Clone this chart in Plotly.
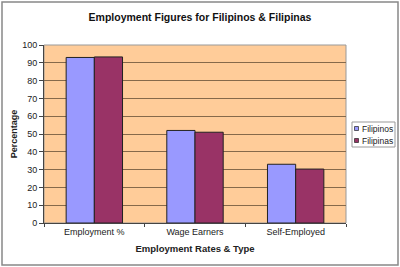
import plotly.graph_objects as go

categories = ["Employment %", "Wage Earners", "Self-Employed"]
filipinos = [93, 52, 33]
filipinas = [93.3, 51, 30.3]
y_ticks = list(range(0, 101, 10))
series_names = ["Filipinos", "Filipinas"]
series_colors = ["#9999FF", "#993366"]

L, R, T, B = 44, 54, 45, 44
W, H = 400, 267
pw, ph = W - L - R, H - T - B

def px(x):
    return (x - L) / pw

def py(y):
    return 1 - (y - T) / ph

fig = go.Figure()
for name, vals, col in zip(series_names, [filipinos, filipinas], series_colors):
    fig.add_trace(go.Bar(name=name, x=categories, y=vals,
                         marker=dict(color=col, line=dict(color="#222222", width=1))))

fig.update_layout(
    width=W, height=H,
    margin=dict(l=L, r=R, t=T, b=B, autoexpand=False),
    paper_bgcolor="white", plot_bgcolor="#FFCC99",
    barmode="group", bargap=0.44, bargroupgap=0.0,
    font=dict(family="Liberation Sans, Arial", size=9, color="#222222"),
    title=dict(text="<b>Employment Figures for Filipinos & Filipinas</b>",
               x=0.5, xanchor="center", y=1 - 17 / H, yanchor="middle",
               font=dict(size=10.5, color="#111111")),
    showlegend=False,
)
fig.update_yaxes(range=[0, 100], tickvals=y_ticks, showgrid=True, gridcolor="#86694a",
                 gridwidth=1, showline=True, linecolor="#444444", linewidth=1,
                 ticks="outside", ticklen=4, tickcolor="#444444",
                 title=dict(text="<b>Percentage</b>", font=dict(size=9), standoff=3),
                 zeroline=False)
fig.update_xaxes(showline=True, linecolor="#444444", linewidth=1,
                 ticks="outside", tickson="boundaries", ticklen=3, tickcolor="#444444",
                 title=dict(text="<b>Employment Rates & Type</b>", font=dict(size=9.5), standoff=9),
                 tickfont=dict(size=9))
# plot area border
fig.add_shape(type="rect", xref="paper", yref="paper", x0=0, x1=1, y0=0, y1=1,
              line=dict(color="#999999", width=1), layer="below")
# outer chart border
fig.add_shape(type="rect", xref="paper", yref="paper",
              x0=px(2), x1=px(398), y0=py(265), y1=py(2),
              line=dict(color="#888888", width=1.5))
# legend box
fig.add_shape(type="rect", xref="paper", yref="paper",
              x0=px(352), x1=px(395), y0=py(147), y1=py(122),
              line=dict(color="#999999", width=1), fillcolor="white")
for i, (name, col) in enumerate(zip(series_names, series_colors)):
    yc = 128.5 + i * 12
    fig.add_shape(type="rect", xref="paper", yref="paper",
                  x0=px(354.5), x1=px(358.5), y0=py(yc + 2), y1=py(yc - 2),
                  line=dict(color="#222222", width=0.7), fillcolor=col)
    fig.add_annotation(text=name, xref="paper", yref="paper", x=px(359.5), y=py(yc),
                       xanchor="left", yanchor="middle", showarrow=False,
                       font=dict(size=8.5, color="#222222"))
fig.write_html("out.html")
